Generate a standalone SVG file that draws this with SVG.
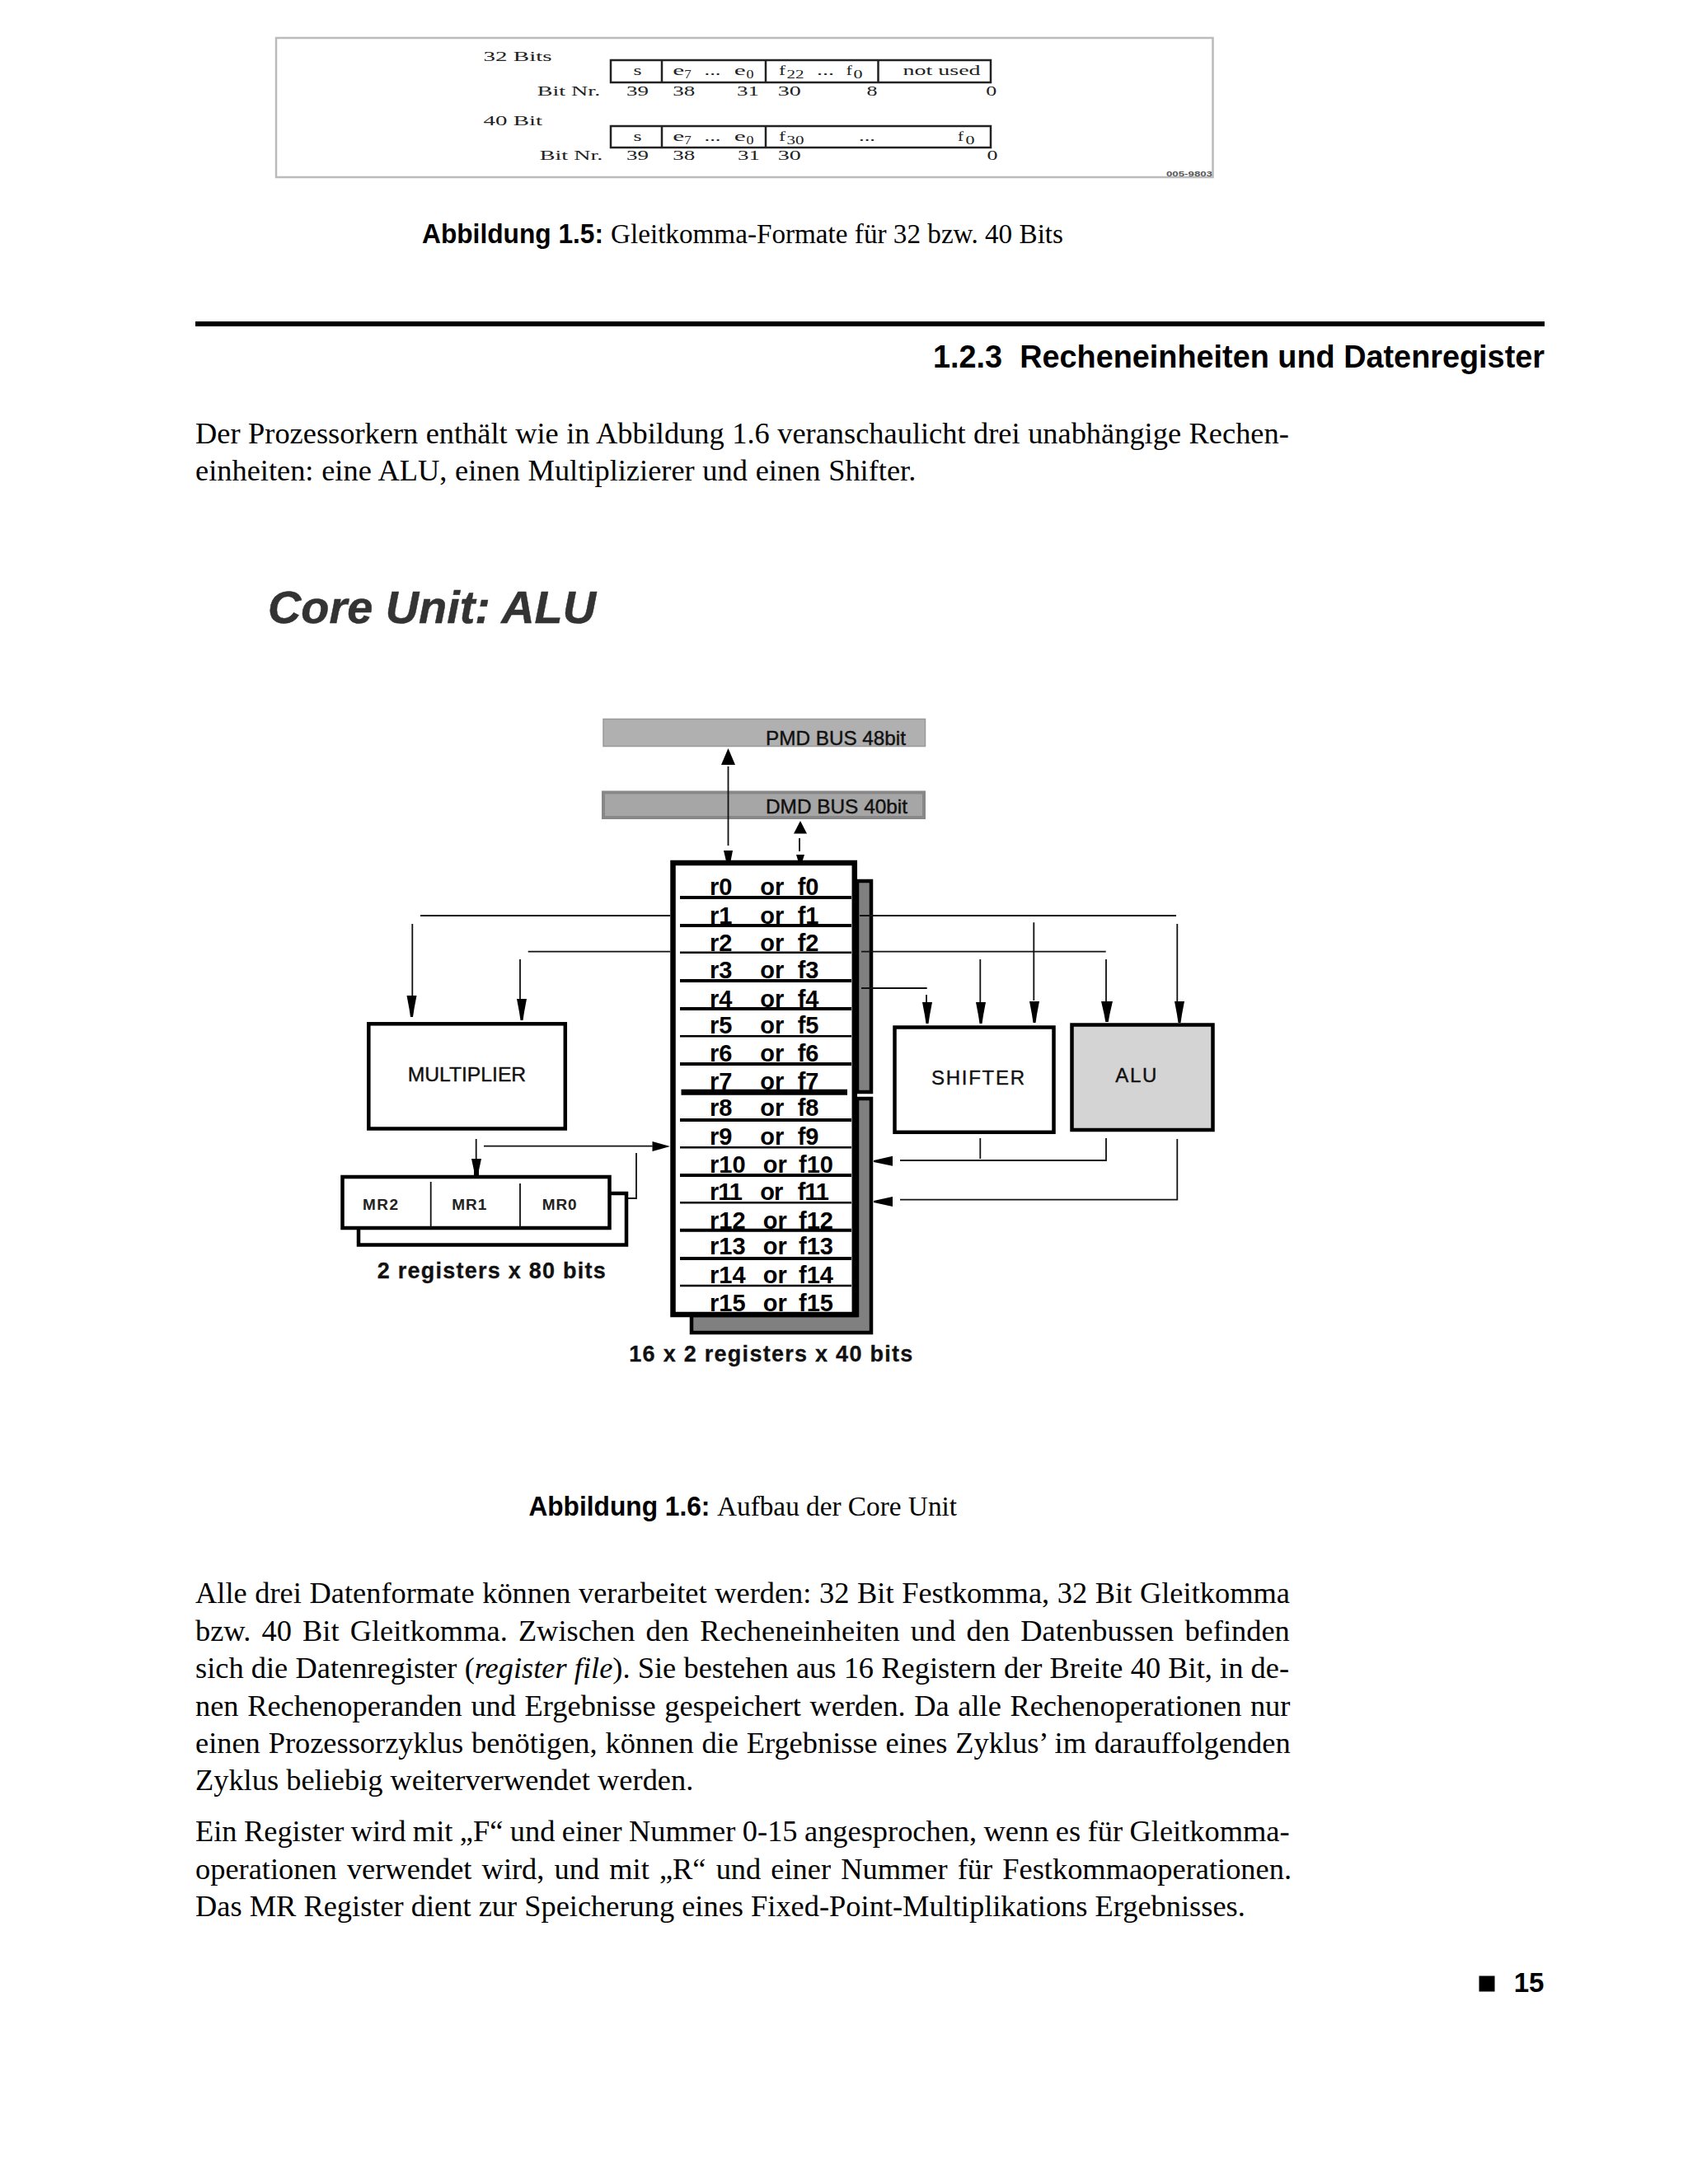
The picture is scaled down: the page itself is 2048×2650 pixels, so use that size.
<svg xmlns="http://www.w3.org/2000/svg" xmlns:xlink="http://www.w3.org/1999/xlink" width="2048" height="2650" viewBox="0 0 2048 2650">
<style>
text{fill:#000}
.b{font:36.4px "Liberation Serif",serif}
.cs{font:bold 33px "Liberation Sans",Arial,sans-serif}
.cr{font:33.5px "Liberation Serif",serif}
.fig{font:17px "Liberation Serif",serif;fill:#222}
.sub{font:14px "Liberation Serif",serif;fill:#222}
.reg{font:bold 29px "Liberation Sans",Arial,sans-serif}
.lab{font:24px "Liberation Sans",Arial,sans-serif;fill:#111;stroke:#111;stroke-width:.4}
.mr{font:bold 19px "Liberation Sans",Arial,sans-serif;fill:#222}
.cap{font:bold 27px "Liberation Sans",Arial,sans-serif;fill:#111;stroke:#111;stroke-width:.3}
.box{fill:#fff;stroke:#000;stroke-width:4.5}
.cell{fill:none;stroke:#222;stroke-width:2.5}
.row{stroke:#000;stroke-width:4}
.thin{stroke:#000;stroke-width:2.5}
.wire{fill:none;stroke:#111;stroke-width:1.8}
.head{fill:#000}
.tight{letter-spacing:-1px}
</style>
<defs>
<path id="ah" d="M-6,0 L6,0 L3,16 L1.5,26 L-1.5,26 L-3,16 Z"/>
</defs>
<rect width="2048" height="2650" fill="#fff"/>

<g id="figure-1-5">
<rect x="335" y="46" width="1136.5" height="169" fill="#fff" stroke="#bbb" stroke-width="2.5"/>
<rect class="cell" x="741" y="73" width="461" height="27"/>
<path class="cell" d="M803,73V100M929,73V100M1065.5,73V100"/>
<rect class="cell" x="741" y="153" width="461" height="26"/>
<path class="cell" d="M803,153V179M929,153V179"/>
<text class="fig" x="586.6" y="74" textLength="83" lengthAdjust="spacingAndGlyphs">32 Bits</text>
<text class="fig" x="768.4" y="91" textLength="10" lengthAdjust="spacingAndGlyphs">s</text>
<text class="fig" x="816.2" y="91" textLength="14" lengthAdjust="spacingAndGlyphs">e</text>
<text class="sub" x="830.2" y="95" textLength="8.5" lengthAdjust="spacingAndGlyphs">7</text>
<text class="fig" x="854.5" y="91" textLength="20" lengthAdjust="spacingAndGlyphs">...</text>
<text class="fig" x="890.8" y="91" textLength="14" lengthAdjust="spacingAndGlyphs">e</text>
<text class="sub" x="905.5" y="95" textLength="9" lengthAdjust="spacingAndGlyphs">0</text>
<text class="fig" x="945" y="91" textLength="8" lengthAdjust="spacingAndGlyphs">f</text>
<text class="sub" x="954.6" y="95" textLength="21" lengthAdjust="spacingAndGlyphs">22</text>
<text class="fig" x="991" y="91" textLength="21" lengthAdjust="spacingAndGlyphs">...</text>
<text class="fig" x="1026.7" y="91" textLength="7" lengthAdjust="spacingAndGlyphs">f</text>
<text class="sub" x="1035.6" y="95" textLength="11" lengthAdjust="spacingAndGlyphs">0</text>
<text class="fig" x="1095.6" y="91" textLength="94" lengthAdjust="spacingAndGlyphs">not used</text>
<text class="fig" x="651.7" y="115.5" textLength="76.5" lengthAdjust="spacingAndGlyphs">Bit Nr.</text>
<text class="fig" x="760" y="115.5" textLength="27" lengthAdjust="spacingAndGlyphs">39</text>
<text class="fig" x="816.2" y="115.5" textLength="27" lengthAdjust="spacingAndGlyphs">38</text>
<text class="fig" x="894" y="115.5" textLength="27" lengthAdjust="spacingAndGlyphs">31</text>
<text class="fig" x="943.8" y="115.5" textLength="28" lengthAdjust="spacingAndGlyphs">30</text>
<text class="fig" x="1051.5" y="115.5" textLength="13" lengthAdjust="spacingAndGlyphs">8</text>
<text class="fig" x="1196.3" y="115.5" textLength="13" lengthAdjust="spacingAndGlyphs">0</text>
<text class="fig" x="586.6" y="152" textLength="71.5" lengthAdjust="spacingAndGlyphs">40 Bit</text>
<text class="fig" x="768.4" y="171" textLength="10" lengthAdjust="spacingAndGlyphs">s</text>
<text class="fig" x="816.2" y="171" textLength="14" lengthAdjust="spacingAndGlyphs">e</text>
<text class="sub" x="830.2" y="175" textLength="8.5" lengthAdjust="spacingAndGlyphs">7</text>
<text class="fig" x="854.5" y="171" textLength="20" lengthAdjust="spacingAndGlyphs">...</text>
<text class="fig" x="890.8" y="171" textLength="14" lengthAdjust="spacingAndGlyphs">e</text>
<text class="sub" x="905.5" y="175" textLength="9" lengthAdjust="spacingAndGlyphs">0</text>
<text class="fig" x="945" y="171" textLength="8" lengthAdjust="spacingAndGlyphs">f</text>
<text class="sub" x="954.6" y="175" textLength="21" lengthAdjust="spacingAndGlyphs">30</text>
<text class="fig" x="1042" y="171" textLength="20" lengthAdjust="spacingAndGlyphs">...</text>
<text class="fig" x="1161.9" y="171" textLength="7" lengthAdjust="spacingAndGlyphs">f</text>
<text class="sub" x="1171.5" y="175" textLength="11" lengthAdjust="spacingAndGlyphs">0</text>
<text class="fig" x="654.8" y="194" textLength="76.5" lengthAdjust="spacingAndGlyphs">Bit Nr.</text>
<text class="fig" x="760" y="194" textLength="27" lengthAdjust="spacingAndGlyphs">39</text>
<text class="fig" x="816.2" y="194" textLength="27" lengthAdjust="spacingAndGlyphs">38</text>
<text class="fig" x="895" y="194" textLength="27" lengthAdjust="spacingAndGlyphs">31</text>
<text class="fig" x="943.8" y="194" textLength="28" lengthAdjust="spacingAndGlyphs">30</text>
<text class="fig" x="1197.6" y="194" textLength="13" lengthAdjust="spacingAndGlyphs">0</text>
<text x="1415" y="214" textLength="56" lengthAdjust="spacingAndGlyphs" style="font:bold 9px 'Liberation Sans',sans-serif;fill:#555">005-9803</text>
</g>

<g id="page-text">
<text class="cs" x="512" y="295" textLength="220" lengthAdjust="spacingAndGlyphs">Abbildung 1.5:</text>
<text class="cr" x="741" y="295" textLength="549" lengthAdjust="spacingAndGlyphs">Gleitkomma-Formate für 32 bzw. 40 Bits</text>
<rect x="237" y="390" width="1637" height="6" fill="#000"/>
<text x="1132" y="446" textLength="742" lengthAdjust="spacingAndGlyphs" xml:space="preserve" style="font:bold 38px 'Liberation Sans',Arial,sans-serif">1.2.3  Recheneinheiten und Datenregister</text>
<text class="b" x="237" y="537.5" word-spacing=".4">Der Prozessorkern enthält wie in Abbildung 1.6 veranschaulicht drei unabhängige Rechen-</text>
<text class="b" x="237" y="582.5" word-spacing=".6">einheiten: eine ALU, einen Multiplizierer und einen Shifter.</text>
<text x="325" y="755.5" textLength="398" lengthAdjust="spacingAndGlyphs" style="font:italic bold 55px 'Liberation Sans',Arial,sans-serif;fill:#333;stroke:#333;stroke-width:.5">Core Unit: ALU</text>
<text class="cs" x="641.4" y="1839" textLength="220" lengthAdjust="spacingAndGlyphs">Abbildung 1.6:</text>
<text class="cr" x="870" y="1839" textLength="291" lengthAdjust="spacingAndGlyphs">Aufbau der Core Unit</text>
<text class="b" x="237" y="1945" word-spacing=".55">Alle drei Datenformate können verarbeitet werden: 32 Bit Festkomma, 32 Bit Gleitkomma</text>
<text class="b" x="237" y="1990.5" word-spacing="4.06">bzw. 40 Bit Gleitkomma. Zwischen den Recheneinheiten und den Datenbussen befinden</text>
<text class="b" x="237" y="2036" word-spacing=".1">sich die Datenregister (<tspan font-style="italic">register file</tspan>). Sie bestehen aus 16 Registern der Breite 40 Bit, in de-</text>
<text class="b" x="237" y="2081.5" word-spacing="1.5">nen Rechenoperanden und Ergebnisse gespeichert werden. Da alle Rechenoperationen nur</text>
<text class="b" x="237" y="2127" word-spacing=".75">einen Prozessorzyklus benötigen, können die Ergebnisse eines Zyklus’ im darauffolgenden</text>
<text class="b" x="237" y="2172">Zyklus beliebig weiterverwendet werden.</text>
<text class="b" x="237" y="2234" word-spacing="-.65">Ein Register wird mit „F“ und einer Nummer 0-15 angesprochen, wenn es für Gleitkomma-</text>
<text class="b" x="237" y="2279.5" word-spacing="3.04">operationen verwendet wird, und mit „R“ und einer Nummer für Festkommaoperationen.</text>
<text class="b" x="237" y="2325">Das MR Register dient zur Speicherung eines Fixed-Point-Multiplikations Ergebnisses.</text>
<rect x="1794.5" y="2397.5" width="19" height="19" fill="#000"/>
<text x="1836.7" y="2416.7" style="font:bold 33px 'Liberation Sans',Arial,sans-serif">15</text>
</g>

<g id="pmd-bus">
<rect x="732" y="872.5" width="390.5" height="33" fill="#b0b0b0" stroke="#999" stroke-width="1.5"/>
<text class="lab" x="929" y="904" textLength="170" lengthAdjust="spacingAndGlyphs">PMD BUS 48bit</text>
</g>
<g id="dmd-bus">
<rect x="732" y="961.5" width="389" height="30.5" fill="#a6a6a6" stroke="#888" stroke-width="4"/>
<text class="lab" x="929" y="987" textLength="172" lengthAdjust="spacingAndGlyphs">DMD BUS 40bit</text>
</g>

<g id="register-file">
<path d="M1040,1069H1057V1325H1040Z" fill="#808080" stroke="#000" stroke-width="4.5"/>
<path d="M1040,1333H1057V1617H839V1596H1040Z" fill="#808080" stroke="#000" stroke-width="4.5"/>
<rect x="816.5" y="1047" width="220.3" height="548" fill="#fff" stroke="#000" stroke-width="6.5"/>
<path class="row" d="M825,1089H1033M825,1123H1033M825,1190H1033M825,1224H1033M825,1291H1033M825,1359H1033M825,1426H1033M825,1492.7H1033M825,1527H1033"/>
<path class="thin" d="M825,1155.7H1033M825,1257.3H1033M825,1392.3H1033M825,1459.3H1033M825,1560H1033"/>
<path d="M826.5,1325.3H1028" stroke="#000" stroke-width="7"/>
<text class="reg" y="1086"><tspan x="861">r0</tspan><tspan x="922.3">or</tspan><tspan x="967.7">f0</tspan></text>
<text class="reg" y="1120.5"><tspan x="861">r1</tspan><tspan x="922.3">or</tspan><tspan x="967.7">f1</tspan></text>
<text class="reg" y="1153.5"><tspan x="861">r2</tspan><tspan x="922.3">or</tspan><tspan x="967.7">f2</tspan></text>
<text class="reg" y="1187"><tspan x="861">r3</tspan><tspan x="922.3">or</tspan><tspan x="967.7">f3</tspan></text>
<text class="reg" y="1221.5"><tspan x="861">r4</tspan><tspan x="922.3">or</tspan><tspan x="967.7">f4</tspan></text>
<text class="reg" y="1254"><tspan x="861">r5</tspan><tspan x="922.3">or</tspan><tspan x="967.7">f5</tspan></text>
<text class="reg" y="1288"><tspan x="861">r6</tspan><tspan x="922.3">or</tspan><tspan x="967.7">f6</tspan></text>
<text class="reg" y="1321.5"><tspan x="861">r7</tspan><tspan x="922.3">or</tspan><tspan x="967.7">f7</tspan></text>
<text class="reg" y="1354"><tspan x="861">r8</tspan><tspan x="922.3">or</tspan><tspan x="967.7">f8</tspan></text>
<text class="reg" y="1388.5"><tspan x="861">r9</tspan><tspan x="922.3">or</tspan><tspan x="967.7">f9</tspan></text>
<text class="reg" y="1422.5"><tspan x="861">r10</tspan><tspan x="925.7">or</tspan><tspan x="969">f10</tspan></text>
<text class="reg tight" y="1455.5"><tspan x="861">r11</tspan><tspan x="922.3">or</tspan><tspan x="967.7">f11</tspan></text>
<text class="reg" y="1490.5"><tspan x="861">r12</tspan><tspan x="925.7">or</tspan><tspan x="969">f12</tspan></text>
<text class="reg" y="1522"><tspan x="861">r13</tspan><tspan x="925.7">or</tspan><tspan x="969">f13</tspan></text>
<text class="reg" y="1556.5"><tspan x="861">r14</tspan><tspan x="925.7">or</tspan><tspan x="969">f14</tspan></text>
<text class="reg" y="1591"><tspan x="861">r15</tspan><tspan x="925.7">or</tspan><tspan x="969">f15</tspan></text>
<text class="cap" x="763.3" y="1651.5" textLength="344">16 x 2 registers x 40 bits</text>
</g>

<g id="multiplier">
<rect class="box" x="447.3" y="1242.3" width="238.5" height="127.2"/>
<text class="lab" x="494.7" y="1312" textLength="143.5" lengthAdjust="spacingAndGlyphs">MULTIPLIER</text>
</g>
<g id="mr-registers">
<path d="M741,1448H760V1510.5H435V1492" fill="none" stroke="#000" stroke-width="4.5"/>
<rect class="box" x="415.5" y="1428" width="324" height="62" />
<path d="M522.7,1434V1490M631,1436V1490" stroke="#111" stroke-width="1.8"/>
<text class="mr" x="440" y="1467.5" textLength="43">MR2</text>
<text class="mr" x="548.3" y="1467.5" textLength="42">MR1</text>
<text class="mr" x="657.7" y="1467.5" textLength="42">MR0</text>
<text class="cap" x="457.7" y="1550.5" textLength="277">2 registers x 80 bits</text>
</g>
<g id="shifter">
<rect class="box" x="1085.5" y="1246.5" width="193" height="127.3"/>
<text class="lab" x="1130" y="1316.3" textLength="113">SHIFTER</text>
</g>
<g id="alu">
<rect class="box" x="1300.5" y="1243.5" width="171" height="127.5" style="fill:#d4d4d4"/>
<text class="lab" x="1353.3" y="1313.3" textLength="50">ALU</text>
</g>

<g id="connectors">
<path class="wire" d="M883.5,930V1026M970,1017V1033"/>
<path class="head" d="M883.5,908L892,928H875Z"/>
<path class="head" d="M878,1032H889L886.5,1045H881Z"/>
<path class="head" d="M971,996L979,1011.5H963Z"/>
<path class="head" d="M966,1037H976L973.5,1045H968.5Z"/>
<path class="wire" d="M510,1111H813M500.3,1121V1208M640.7,1154.7H813M631,1164V1212"/>
<use href="#ah" xlink:href="#ah" class="head" transform="translate(499.5,1208)"/>
<use href="#ah" xlink:href="#ah" class="head" transform="translate(633,1212)"/>
<path class="wire" d="M1043,1111H1427M1045,1154.7H1341.7M1045,1199H1124.7M1124,1207V1216M1189.3,1164V1216M1254.3,1119.3V1214M1342,1164V1216M1428.3,1121V1216"/>
<use href="#ah" xlink:href="#ah" class="head" transform="translate(1125,1216)"/>
<use href="#ah" xlink:href="#ah" class="head" transform="translate(1190,1216)"/>
<use href="#ah" xlink:href="#ah" class="head" transform="translate(1255,1215)"/>
<use href="#ah" xlink:href="#ah" class="head" transform="translate(1343,1215) scale(1.16,.96)"/>
<use href="#ah" xlink:href="#ah" class="head" transform="translate(1431,1215)"/>
<path class="wire" d="M577.7,1382V1406M587,1390.7H791.7M772,1399V1454H761.7"/>
<path class="head" d="M572,1406H584L581,1420V1426H575V1420Z"/>
<path class="head" d="M791.5,1385L813,1391L791.5,1397Z"/>
<path class="wire" d="M1189.3,1381V1406M1342,1381V1408H1092M1428.3,1382V1455.7H1092"/>
<path class="head" d="M1083,1402.7V1414.7L1060,1410V1408Z"/>
<path class="head" d="M1083,1452V1464L1060,1459V1457Z"/>
</g>
</svg>
